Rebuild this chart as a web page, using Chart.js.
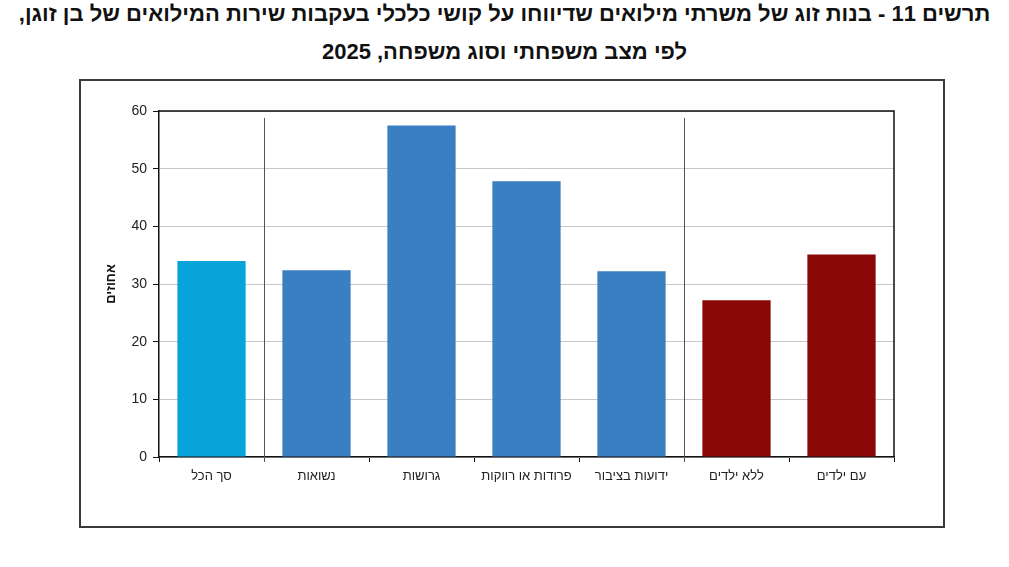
<!DOCTYPE html>
<html lang="he">
<head>
<meta charset="utf-8">
<script src="https://cdn.jsdelivr.net/npm/chart.js@4/dist/chart.umd.min.js"></script>
<style>
  body { margin: 0; background: #fff; width: 1009px; height: 567px; position: relative; overflow: hidden; }
  .title {
    position: absolute; left: 0; width: 1009px; text-align: center;
    font-family: "Liberation Sans", Arial, sans-serif; font-weight: bold;
    font-size: 22px; line-height: 26px; color: #111; white-space: nowrap;
  }
  #t1 { top: 1px; }
  #t2 { top: 39px; }
  #box {
    position: absolute; left: 79px; top: 79px; width: 862px; height: 445px;
    border: 2px solid #3a3a3a;
  }
</style>
</head>
<body>
<div class="title" id="t1" dir="rtl">תרשים 11 - בנות זוג של משרתי מילואים שדיווחו על קושי כלכלי בעקבות שירות המילואים של בן זוגן,</div>
<div class="title" id="t2" dir="rtl">לפי מצב משפחתי וסוג משפחה, 2025</div>
<div id="box"><canvas id="chart" width="862" height="445"></canvas></div>
<script>
const categories = ['סך הכל', 'נשואות', 'גרושות', 'פרודות או רווקות', 'ידועות בציבור', 'ללא ילדים', 'עם ילדים'];
const values = [34.0, 32.4, 57.5, 47.8, 32.2, 27.2, 35.1];
const groupBreaks = [1, 5]; // separators between groups
const yTicks = { min: 0, max: 60, step: 10 };
const yTitle = 'אחוזים';

const barColors = ['#08a4d9', '#3a7fc2', '#3a7fc2', '#3a7fc2', '#3a7fc2', '#8a0707', '#8a0707'];
const FONT = '"Liberation Sans", Arial, sans-serif';

// frame around the plot area and group separators
const framePlugin = {
    id: 'frame',
    afterDatasetsDraw(chart) {
        const ctx = chart.ctx;
        const a = chart.chartArea;
        const x = chart.scales.x;
        ctx.save();
        ctx.strokeStyle = '#555';
        ctx.lineWidth = 1;
        groupBreaks.forEach(i => {
            const px = Math.round((x.getPixelForValue(i - 1) + x.getPixelForValue(i)) / 2) + 0.5;
            ctx.beginPath();
            ctx.moveTo(px, a.top + 7);
            ctx.lineTo(px, a.bottom + 5);
            ctx.stroke();
        });
        ctx.strokeStyle = '#111';
        ctx.lineWidth = 1.5;
        ctx.beginPath();
        ctx.moveTo(a.left, a.top);
        ctx.lineTo(a.right, a.top);
        ctx.lineTo(a.right, a.bottom);
        ctx.stroke();
        ctx.restore();
    }
};

new Chart(document.getElementById('chart'), {
    type: 'bar',
    data: {
        labels: categories,
        datasets: [{
            data: values,
            backgroundColor: barColors,
            borderWidth: 0,
            barPercentage: 0.65,
            categoryPercentage: 1
        }]
    },
    options: {
        responsive: false,
        animation: false,
        layout: { padding: { top: 30, right: 49, left: 0, bottom: 0 } },
        plugins: {
            legend: { display: false },
            tooltip: { enabled: false }
        },
        scales: {
            x: {
                afterFit: s => { s.height = 69; },
                grid: {
                    offset: true,
                    drawOnChartArea: false,
                    tickLength: 5,
                    tickColor: '#111'
                },
                border: { color: '#111', width: 1.5 },
                ticks: {
                    color: '#222',
                    padding: 7,
                    maxRotation: 0,
                    font: { family: FONT, size: 13 }
                }
            },
            y: {
                min: yTicks.min,
                max: yTicks.max,
                afterFit: s => { s.width = 78; },
                grid: {
                    color: '#c8c8c8',
                    lineWidth: 1,
                    tickLength: 6,
                    tickColor: '#111'
                },
                border: { color: '#111', width: 1.5 },
                ticks: {
                    stepSize: yTicks.step,
                    color: '#222',
                    padding: 6,
                    font: { family: FONT, size: 14 }
                },
                title: {
                    display: true,
                    text: yTitle,
                    color: '#111',
                    padding: { top: 23, bottom: 0 },
                    font: { family: FONT, size: 13, weight: 'bold' }
                }
            }
        }
    },
    plugins: [framePlugin]
});
</script>
</body>
</html>
